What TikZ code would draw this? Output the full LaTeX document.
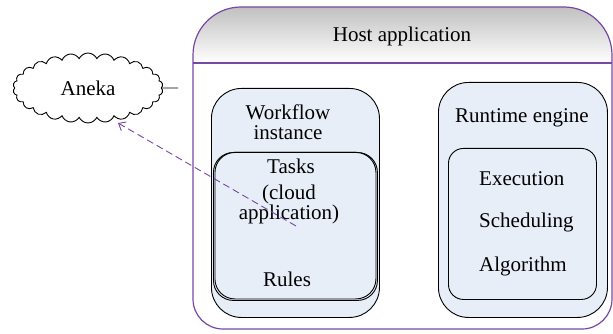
\documentclass[tikz,border=0pt]{standalone}
\usepackage{fontspec}
\setmainfont{Liberation Serif}
\usetikzlibrary{shapes.symbols,arrows.meta}
\definecolor{hostc}{RGB}{118,72,164}
\definecolor{boxfill}{RGB}{232,238,247}
\definecolor{hdrgray}{RGB}{190,190,190}
\begin{document}
\begin{tikzpicture}[x=1pt,y=-1pt,
  lbl/.style={font=\fontsize{21}{24}\selectfont, inner sep=0pt, anchor=base},
  lblw/.style={lbl, anchor=base west},
  rbox/.style={draw=black, fill=boxfill, line width=0.9pt, rounded corners=#1, anchor=north west, inner sep=0pt},
  hostline/.style={draw=hostc, line width=1.2pt},
  conn/.style={draw=black, line width=0.9pt},
  dep/.style={draw=hostc, line width=0.9pt, dash pattern=on 7pt off 4pt, -{Straight Barb[length=6pt,width=10pt]}}
]
\useasboundingbox (0,0) rectangle (613,334);

% host application frame with shaded header
\begin{scope}
  \clip (193,150) [rounded corners=30pt] -- (193,329) -- (612,329) -- (612,150) [rounded corners=48pt] -- (612,7) -- (193,7) -- cycle;
  \shade[top color=hdrgray, bottom color=white] (190,5) rectangle (615,63);
\end{scope}
\draw[hostline] (193,150) [rounded corners=30pt] -- (193,329) -- (612,329) -- (612,150) [rounded corners=48pt] -- (612,7) -- (193,7) -- cycle;
\draw[hostline] (193,63) -- (612,63);
\node[lbl] (host) at (402,42) {Host application};

% workflow instance
\node[rbox=30pt, minimum width=168pt, minimum height=229pt] (wf) at (211,88) {};
\node[lbl] (wf1) at (288,119.5) {Workflow};
\node[lbl] (wf2) at (288,139.5) {instance};
\node[rbox=20pt, minimum width=164pt, minimum height=148pt] (tasksbk) at (213,152) {};
\node[rbox=20pt, minimum width=161pt, minimum height=146.5pt] (tasks) at (214.5,152) {};
\node[lbl] (t1) at (291,173.5) {Tasks};
\node[lbl] (t2) at (289,199.5) {(cloud};
\node[lbl] (t3) at (289,219.5) {application)};
\node[lbl] (rules) at (287,286) {Rules};

% runtime engine
\node[rbox=30pt, minimum width=169pt, minimum height=235pt] (rt) at (438,82) {};
\node[lbl] (rt1) at (522,122.5) {Runtime engine};
\node[rbox=15pt, minimum width=148pt, minimum height=151pt] (rtin) at (448,148) {};
\node[lblw] (ex) at (479,185) {Execution};
\node[lblw] (sc) at (479,227) {Scheduling};
\node[lblw] (al) at (479,271) {Algorithm};

% Aneka cloud
\node[cloud, draw=black, fill=white, line width=0.9pt, cloud puffs=26, cloud puff arc=130, aspect=2.2, minimum width=150pt, minimum height=70pt, inner sep=0pt, font=\fontsize{21}{24}\selectfont] (aneka) at (88,88) {Aneka};
\coordinate (lend) at (178,88);
\draw[conn] (aneka.east) -- (lend);

% dashed arrow
\coordinate (astart) at (296,226);
\coordinate (atip) at (118,123);
\draw[dep] (astart) -- (atip);
\end{tikzpicture}
\end{document}
